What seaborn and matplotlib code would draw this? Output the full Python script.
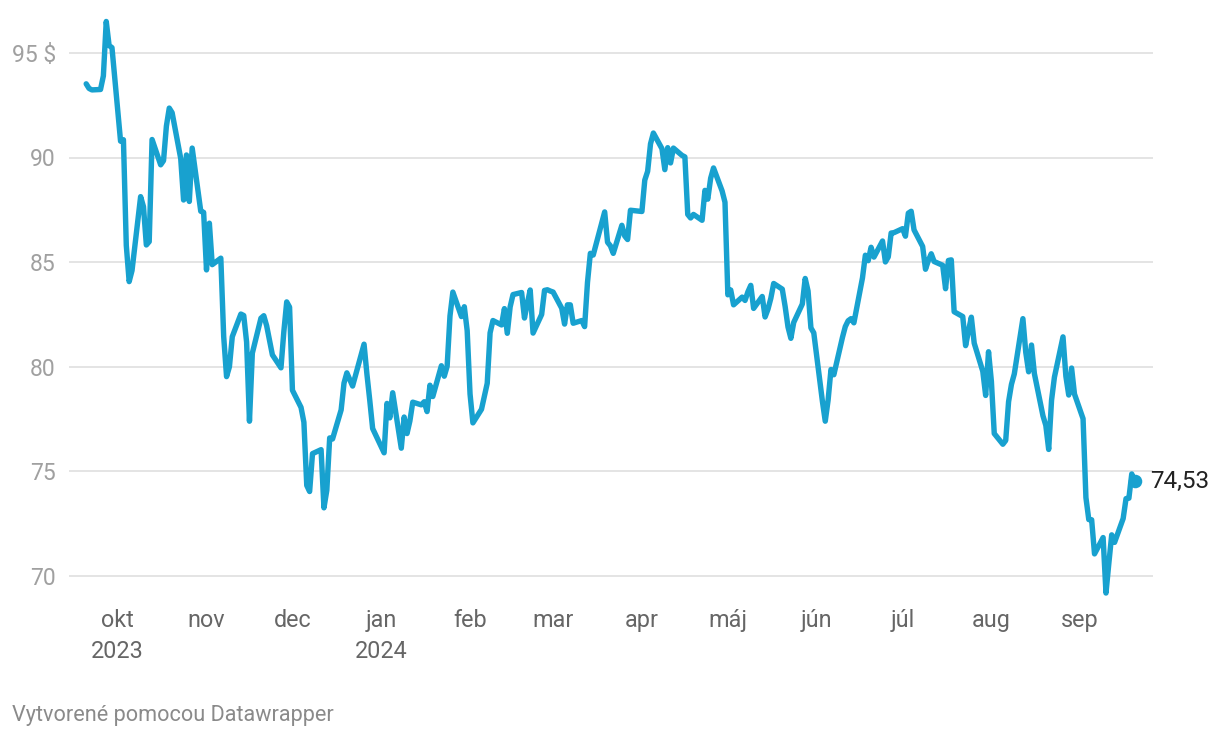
import matplotlib
matplotlib.use("Agg")
import matplotlib.pyplot as plt
import seaborn as sns
import pandas as pd

dates = [
    "2023-09-20", "2023-09-21", "2023-09-22", "2023-09-25", "2023-09-26", "2023-09-27", "2023-09-28", "2023-09-29",
    "2023-10-02", "2023-10-03", "2023-10-04", "2023-10-05", "2023-10-06", "2023-10-09", "2023-10-10", "2023-10-11",
    "2023-10-12", "2023-10-13", "2023-10-16", "2023-10-17", "2023-10-18", "2023-10-19", "2023-10-20", "2023-10-23",
    "2023-10-24", "2023-10-25", "2023-10-26", "2023-10-27", "2023-10-30", "2023-10-31",
    "2023-11-01", "2023-11-02", "2023-11-03", "2023-11-06", "2023-11-07", "2023-11-08", "2023-11-09", "2023-11-10",
    "2023-11-13", "2023-11-14", "2023-11-15", "2023-11-16", "2023-11-17", "2023-11-20", "2023-11-21", "2023-11-22",
    "2023-11-24", "2023-11-27", "2023-11-28", "2023-11-29", "2023-11-30",
    "2023-12-01", "2023-12-04", "2023-12-05", "2023-12-06", "2023-12-07", "2023-12-08", "2023-12-11", "2023-12-12",
    "2023-12-13", "2023-12-14", "2023-12-15", "2023-12-18", "2023-12-19", "2023-12-20", "2023-12-21", "2023-12-22",
    "2023-12-26", "2023-12-27", "2023-12-28", "2023-12-29",
    "2024-01-02", "2024-01-03", "2024-01-04", "2024-01-05", "2024-01-08", "2024-01-09", "2024-01-10", "2024-01-11",
    "2024-01-12", "2024-01-15", "2024-01-16", "2024-01-17", "2024-01-18", "2024-01-19", "2024-01-22", "2024-01-23",
    "2024-01-24", "2024-01-25", "2024-01-26", "2024-01-29", "2024-01-30", "2024-01-31",
    "2024-02-01", "2024-02-02", "2024-02-05", "2024-02-06", "2024-02-07", "2024-02-08", "2024-02-09", "2024-02-12",
    "2024-02-13", "2024-02-14", "2024-02-15", "2024-02-16", "2024-02-19", "2024-02-20", "2024-02-21", "2024-02-22",
    "2024-02-23", "2024-02-26", "2024-02-27", "2024-02-28", "2024-02-29",
    "2024-03-01", "2024-03-04", "2024-03-05", "2024-03-06", "2024-03-07", "2024-03-08", "2024-03-11", "2024-03-12",
    "2024-03-13", "2024-03-14", "2024-03-15", "2024-03-18", "2024-03-19", "2024-03-20", "2024-03-21", "2024-03-22",
    "2024-03-25", "2024-03-26", "2024-03-27", "2024-03-28",
    "2024-04-01", "2024-04-02", "2024-04-03", "2024-04-04", "2024-04-05", "2024-04-08", "2024-04-09", "2024-04-10",
    "2024-04-11", "2024-04-12", "2024-04-15", "2024-04-16", "2024-04-17", "2024-04-18", "2024-04-19", "2024-04-22",
    "2024-04-23", "2024-04-24", "2024-04-25", "2024-04-26", "2024-04-29", "2024-04-30",
    "2024-05-01", "2024-05-02", "2024-05-03", "2024-05-06", "2024-05-07", "2024-05-08", "2024-05-09", "2024-05-10",
    "2024-05-13", "2024-05-14", "2024-05-15", "2024-05-16", "2024-05-17", "2024-05-20", "2024-05-21", "2024-05-22",
    "2024-05-23", "2024-05-24", "2024-05-27", "2024-05-28", "2024-05-29", "2024-05-30", "2024-05-31",
    "2024-06-03", "2024-06-04", "2024-06-05", "2024-06-06", "2024-06-07", "2024-06-10", "2024-06-11", "2024-06-12",
    "2024-06-13", "2024-06-14", "2024-06-17", "2024-06-18", "2024-06-19", "2024-06-20", "2024-06-21", "2024-06-24",
    "2024-06-25", "2024-06-26", "2024-06-27", "2024-06-28",
    "2024-07-01", "2024-07-02", "2024-07-03", "2024-07-04", "2024-07-05", "2024-07-08", "2024-07-09", "2024-07-10",
    "2024-07-11", "2024-07-12", "2024-07-15", "2024-07-16", "2024-07-17", "2024-07-18", "2024-07-19", "2024-07-22",
    "2024-07-23", "2024-07-24", "2024-07-25", "2024-07-26", "2024-07-29", "2024-07-30", "2024-07-31",
    "2024-08-01", "2024-08-02", "2024-08-05", "2024-08-06", "2024-08-07", "2024-08-08", "2024-08-09", "2024-08-12",
    "2024-08-13", "2024-08-14", "2024-08-15", "2024-08-16", "2024-08-19", "2024-08-20", "2024-08-21", "2024-08-22",
    "2024-08-23", "2024-08-26", "2024-08-27", "2024-08-28", "2024-08-29", "2024-08-30",
    "2024-09-02", "2024-09-03", "2024-09-04", "2024-09-05", "2024-09-06", "2024-09-09", "2024-09-10", "2024-09-11",
    "2024-09-12", "2024-09-13", "2024-09-16", "2024-09-17", "2024-09-18", "2024-09-19", "2024-09-20",
]

prices = [
    93.52, 93.30, 93.23, 93.25, 93.90, 96.50, 95.35, 95.25,
    90.78, 90.85, 85.80, 84.07, 84.60, 88.13, 87.65, 85.82,
    85.98, 90.86, 89.65, 89.85, 91.50, 92.36, 92.14, 89.95,
    87.97, 90.12, 87.90, 90.45, 87.43, 87.38,
    84.63, 86.86, 84.88, 85.19, 81.45, 79.53, 80.00, 81.44,
    82.52, 82.45, 81.18, 77.40, 80.65, 82.32, 82.44, 81.96,
    80.57, 79.95, 81.68, 83.10, 82.85,
    78.88, 78.06, 77.35, 74.33, 74.04, 75.85, 76.04, 73.26,
    74.10, 76.60, 76.55, 77.94, 79.22, 79.71, 79.39, 79.08,
    81.08, 79.65, 78.39, 77.05,
    75.89, 78.25, 77.56, 78.76, 76.11, 77.60, 76.81, 77.41,
    78.31, 78.18, 78.33, 77.86, 79.12, 78.58, 80.05, 79.55,
    80.02, 82.43, 83.57, 82.40, 82.87, 81.73,
    78.70, 77.32, 77.97, 78.59, 79.21, 81.62, 82.21, 82.00,
    82.78, 81.60, 82.86, 83.45, 83.55, 82.33, 83.03, 83.67,
    81.61, 82.50, 83.65, 83.68, 83.62,
    83.57, 82.80, 82.04, 82.96, 82.96, 82.08, 82.21, 81.92,
    84.03, 85.42, 85.34, 86.89, 87.40, 85.95, 85.78, 85.42,
    86.76, 86.25, 86.08, 87.48,
    87.42, 88.92, 89.34, 90.65, 91.17, 90.42, 89.42, 90.47,
    89.74, 90.45, 90.10, 90.03, 87.28, 87.11, 87.28, 87.00,
    88.43, 88.01, 89.01, 89.50, 88.40, 87.86,
    83.44, 83.67, 82.96, 83.33, 83.17, 83.58, 83.89, 82.79,
    83.36, 82.38, 82.75, 83.27, 83.98, 83.71, 82.88, 81.90,
    81.36, 82.12, 83.00, 84.22, 83.62, 81.86, 81.62,
    78.36, 77.40, 78.41, 79.87, 79.62, 81.40, 81.92, 82.20,
    82.30, 82.10, 84.25, 85.33, 85.07, 85.71, 85.24, 86.01,
    85.01, 85.25, 86.39, 86.41,
    86.60, 86.24, 87.34, 87.43, 86.54, 85.75, 84.66, 85.08,
    85.40, 85.03, 84.85, 83.73, 85.08, 85.11, 82.63, 82.40,
    81.01, 81.71, 82.37, 81.13, 79.78, 78.63, 80.72,
    79.30, 76.81, 76.30, 76.48, 78.33, 79.16, 79.66, 82.30,
    80.69, 79.76, 81.04, 79.68, 77.66, 77.20, 76.05, 78.40,
    79.50, 81.43, 79.55, 78.65, 79.94, 78.70,
    77.52, 73.75, 72.70, 72.69, 71.06, 71.84, 69.19, 70.61,
    71.97, 71.61, 72.75, 73.70, 73.72, 74.88, 74.53,
]

tick_dates = ["2023-10-01", "2023-11-01", "2023-12-01", "2024-01-01", "2024-02-01", "2024-03-01",
              "2024-04-01", "2024-05-01", "2024-06-01", "2024-07-01", "2024-08-01", "2024-09-01"]
tick_labels = ["okt\n2023", "nov", "dec", "jan\n2024", "feb", "mar",
               "apr", "máj", "jún", "júl", "aug", "sep"]
y_ticks = [70, 75, 80, 85, 90, 95]
y_tick_labels = ["70", "75", "80", "85", "90", "95 $"]
footer = "Vytvorené pomocou Datawrapper"

sns.set_theme(style="white")
plt.rcParams["font.family"] = ["Roboto", "DejaVu Sans"]

LINE = "#18a1cf"

df = pd.DataFrame({"date": pd.to_datetime(dates), "price": prices})

W, H = 1220, 740
fig = plt.figure(figsize=(W / 100, H / 100), dpi=100)
fig.patch.set_facecolor("white")
ax = fig.add_axes([69 / W, 1 - 597 / H, (1153 - 69) / W, (597 - 11) / H])

ax.set_ylim(69.0, 97.0)
ax.set_xlim(pd.Timestamp("2023-09-14"), pd.Timestamp("2024-09-26 10:00"))
ax.set_yticks(y_ticks)
ax.set_yticklabels(y_tick_labels)
ax.yaxis.grid(True, color="#e2e2e2", linewidth=1.3, zorder=0)
ax.xaxis.grid(False)
for s in ax.spines.values():
    s.set_visible(False)

sns.lineplot(data=df, x="date", y="price", ax=ax, color=LINE, linewidth=3.9,
             solid_joinstyle="round", solid_capstyle="round", zorder=3)

last_d = df["date"].iloc[-1]
last_v = df["price"].iloc[-1]
ax.scatter([last_d], [last_v], s=95, color=LINE, zorder=4, linewidths=0)
ax.annotate(f"{last_v:.2f}".replace(".", ","), xy=(last_d, last_v), xytext=(11.5, 0),
            textcoords="offset points", ha="left", va="center", fontsize=17.5, color="#222222")

ax.set_xticks(pd.to_datetime(tick_dates))
ax.set_xticklabels(tick_labels)
ax.tick_params(axis="x", length=0, pad=8.5, labelsize=16.8, labelcolor="#666666")
ax.tick_params(axis="y", length=0, pad=9.5, labelsize=16.5, labelcolor="#a0a0a0")
for t in ax.get_xticklabels():
    t.set_linespacing(1.45)
ax.set_xlabel("")
ax.set_ylabel("")

fig.text(12 / W, 1 - 715 / H, footer, ha="left", va="center", fontsize=15.6, color="#8a8a8a")

fig.savefig("out.png", dpi=100, facecolor="white")
